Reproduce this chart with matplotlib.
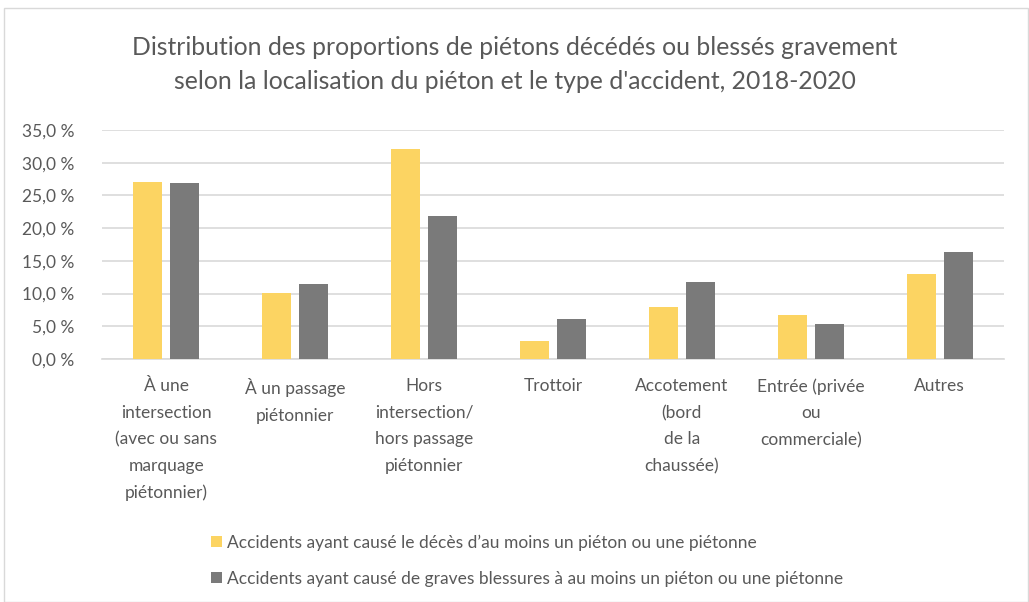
import matplotlib.pyplot as plt
import numpy as np
from matplotlib.ticker import FuncFormatter
from matplotlib.patches import Rectangle

plt.rcParams['font.family'] = ['Lato', 'DejaVu Sans']

categories = [
    "À une\nintersection\n(avec ou sans\nmarquage\npiétonnier)",
    "À un passage\npiétonnier",
    "Hors\nintersection/\nhors passage\npiétonnier",
    "Trottoir",
    "Accotement\n(bord\nde la\nchaussée)",
    "Entrée (privée\nou\ncommerciale)",
    "Autres",
]
deces = [27.1, 10.1, 32.1, 2.8, 7.9, 6.7, 13.0]
blesses = [26.9, 11.5, 21.8, 6.1, 11.8, 5.3, 16.3]
series_names = [
    "Accidents ayant causé le décès d’au moins un piéton ou une piétonne",
    "Accidents ayant causé de graves blessures à au moins un piéton ou une piétonne",
]
title = ("Distribution des proportions de piétons décédés ou blessés gravement\n"
         "selon la localisation du piéton et le type d'accident, 2018-2020")

yellow = "#FCD462"
gray = "#7A7A7A"
text_col = "#595959"
grid_col = "#D9D9D9"

fig = plt.figure(figsize=(10.29, 6.02), dpi=100)
fig.patches.append(Rectangle((0.004, 0.0), 0.995, 0.987, transform=fig.transFigure,
                             fill=False, edgecolor=grid_col, linewidth=1))
ax = fig.add_axes([0.0991, 0.4037, 0.8766, 0.3803])

x = np.arange(len(categories))
w = 0.225
off = 0.1435
ax.bar(x - off, deces, w, color=yellow, label=series_names[0], zorder=3)
ax.bar(x + off, blesses, w, color=gray, label=series_names[1], zorder=3)

ax.set_xlim(-0.5, len(categories) - 0.5)
ax.set_ylim(0, 35)
ax.set_yticks(np.arange(0, 36, 5))
ax.yaxis.set_major_formatter(FuncFormatter(lambda v, p: f"{v:.1f} %".replace(".", ",")))
ax.grid(axis="y", color=grid_col, linewidth=1.2, zorder=0)
for s in ["top", "right", "left"]:
    ax.spines[s].set_visible(False)
ax.spines["bottom"].set_color(grid_col)
ax.spines["bottom"].set_linewidth(1.2)
ax.tick_params(axis="y", length=0, colors=text_col, labelsize=12.5, pad=20)
ax.set_xticks(x)
ax.set_xticklabels(categories, linespacing=1.8)
ax.tick_params(axis="x", length=0, colors=text_col, labelsize=12.5, pad=14)

fig.text(0.5, 0.893, title, ha="center", va="center", fontsize=17.8,
         color=text_col, linespacing=1.55)

fig.legend(loc="upper left", bbox_to_anchor=(0.19, 0.138), frameon=False,
           fontsize=12.5, labelcolor=text_col, handlelength=0.6, handleheight=0.6,
           handletextpad=0.3, labelspacing=1.15)

fig.savefig("out.png", dpi=100)
